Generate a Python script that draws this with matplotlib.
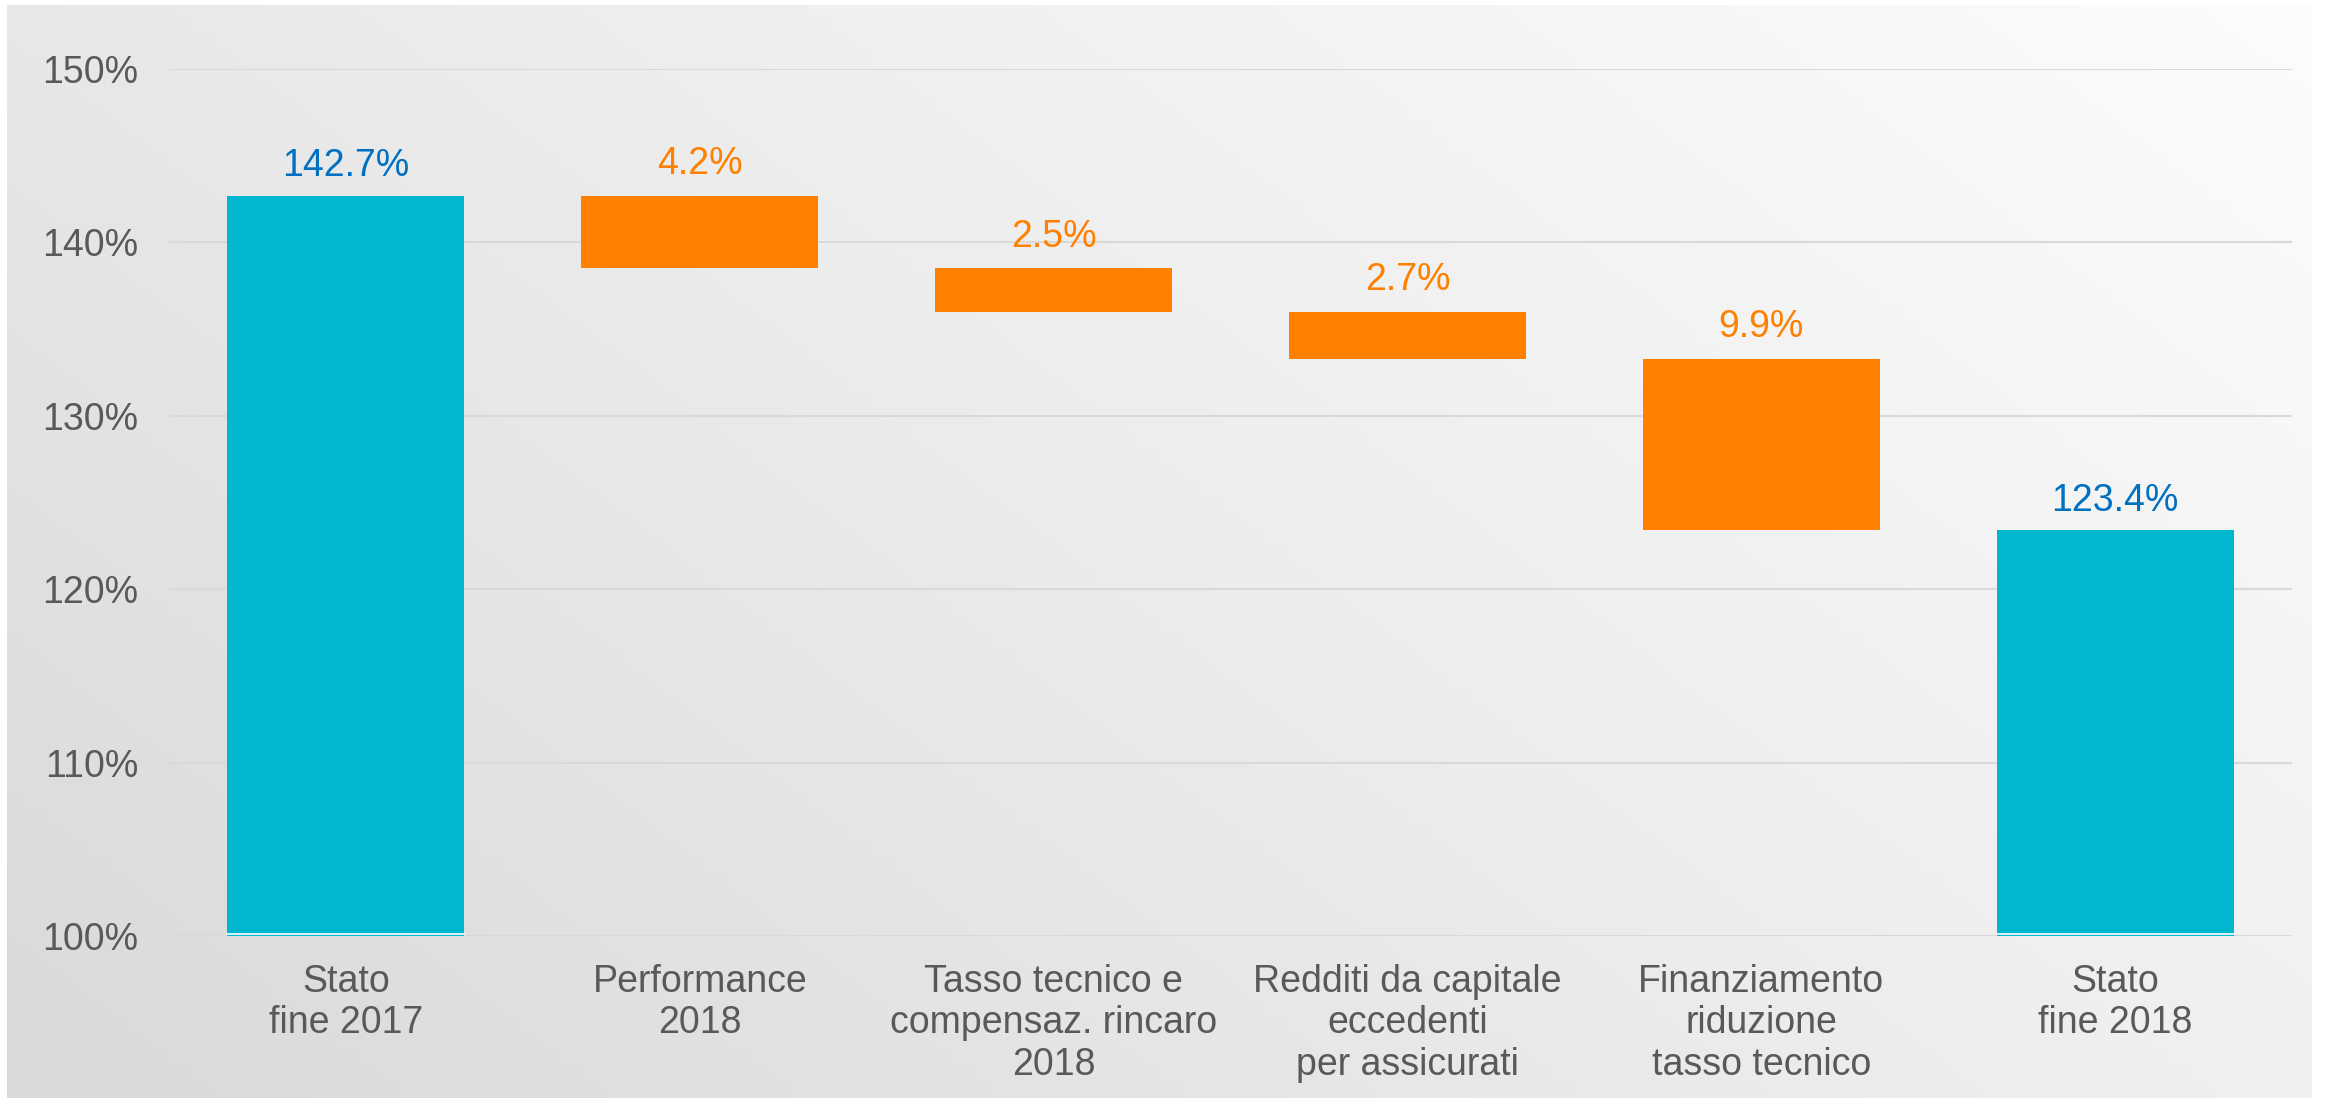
import numpy as np
import matplotlib
matplotlib.use("Agg")
import matplotlib.pyplot as plt
from matplotlib.colors import LinearSegmentedColormap

# ---- data ----
categories = ["Stato\nfine 2017", "Performance\n2018",
              "Tasso tecnico e\ncompensaz. rincaro\n2018",
              "Redditi da capitale\neccedenti\nper assicurati",
              "Finanziamento\nriduzione\ntasso tecnico",
              "Stato\nfine 2018"]
start_value = 142.7
changes = [4.2, 2.5, 2.7, 9.9]          # decreases
end_value = 123.4
y_ticks = [100, 110, 120, 130, 140, 150]
y_tick_labels = ["100%", "110%", "120%", "130%", "140%", "150%"]

plt.rcParams['font.family'] = ['Liberation Sans', 'DejaVu Sans']

W, H = 2349, 1098
fig = plt.figure(figsize=(W / 100, H / 100), dpi=100)
fig.patch.set_facecolor("white")

# background gradient panel
bg = fig.add_axes([7 / W, 0, (2312 - 7) / W, (H - 5) / H], zorder=0)
nx, ny = 400, 200
xx, yy = np.meshgrid(np.linspace(0, 1, nx), np.linspace(1, 0, ny))
u = 0.62 * xx + 0.38 * yy  # 0 bottom-left -> 1 top-right
cmap = LinearSegmentedColormap.from_list("bg", ["#d9d9d9", "#ececec", "#fcfcfc"])
bg.imshow(u, cmap=cmap, aspect="auto", extent=[0, 1, 0, 1], vmin=0, vmax=1)
bg.set_axis_off()

ax = fig.add_axes([169 / W, 1 - 936 / H, (2292 - 169) / W, (936 - 69) / H], zorder=1)
ax.patch.set_alpha(0)

base = 100
teal = "#00b7cf"
orange = "#ff8000"
blue_lbl = "#0070c0"

x = np.arange(len(categories))
bw = 0.67

# totals
ax.bar(x[0], start_value - base, bottom=base, width=bw, color=teal, zorder=3)
ax.bar(x[-1], end_value - base, bottom=base, width=bw, color=teal, zorder=3)

# deltas
level = start_value
tops = []
for i, c in enumerate(changes):
    ax.bar(x[i + 1], c, bottom=level - c, width=bw, color=orange, zorder=3)
    tops.append(level)
    level -= c

fs = 27
ax.annotate(f"{start_value:.1f}%", (x[0], start_value), xytext=(0, 8),
            textcoords="offset points", ha="center", va="bottom",
            color=blue_lbl, fontsize=fs, zorder=5)
ax.annotate(f"{end_value:.1f}%", (x[-1], end_value), xytext=(0, 8),
            textcoords="offset points", ha="center", va="bottom",
            color=blue_lbl, fontsize=fs, zorder=5)
for i, c in enumerate(changes):
    ax.annotate(f"{c:.1f}%", (x[i + 1], tops[i]), xytext=(0, 10),
                textcoords="offset points", ha="center", va="bottom",
                color=orange, fontsize=fs, zorder=5)

# thin white line near baseline inside totals bars
for xi in (x[0], x[-1]):
    ax.plot([xi - bw / 2, xi + bw / 2], [base + 0.12, base + 0.12],
            color="white", lw=1.2, zorder=4)

ax.set_xlim(-0.5, len(categories) - 0.5)
ax.set_ylim(100, 150)
ax.set_yticks(y_ticks)
ax.set_yticklabels(y_tick_labels)
ax.set_xticks(x)
ax.set_xticklabels(categories, linespacing=1.2)
ax.tick_params(axis="y", length=0, pad=22, labelsize=fs, labelcolor="#595959")
ax.tick_params(axis="x", length=0, pad=20, labelsize=fs, labelcolor="#595959")
ax.grid(axis="y", color="#d9d9d9", lw=1.5, zorder=0)
ax.set_axisbelow(True)
for s in ax.spines.values():
    s.set_visible(False)

fig.savefig("out.png", dpi=100)
